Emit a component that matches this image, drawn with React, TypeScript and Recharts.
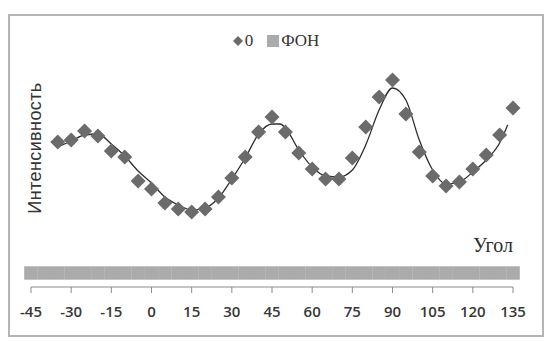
import { ComposedChart, Scatter, Line, XAxis, YAxis } from 'recharts'

// angle (deg) for measured points
const ANGLES = [
  -35, -30, -25, -20, -15, -10, -5, 0, 5, 10, 15, 20, 25, 30, 35, 40, 45, 50, 55, 60, 65, 70, 75,
  80, 85, 90, 95, 100, 105, 110, 115, 120, 125, 130, 135
]
const INTENSITY = [
  72.5, 73.5, 78, 75.5, 68, 65, 53, 49, 42, 39, 37.5, 39, 45, 54.5, 65, 77.5, 85, 77.5, 67, 59, 54,
  54, 64.5, 80, 95, 103.5, 86.5, 67.5, 55.5, 50.5, 52.5, 59, 66, 76, 89.5
]

// fitted curve
const CURVE_ANGLES = [
  -35, -30, -25, -20, -15, -10, -5, 0, 5, 10, 15, 20, 25, 30, 35, 40, 45, 48, 50, 55, 60, 65, 70,
  75, 80, 85, 90, 95, 100, 105, 110, 115, 120, 125, 130, 133
]
const CURVE = [
  70, 73, 76, 76.5, 71.5, 65.5, 58, 52, 45, 41, 38.5, 39.5, 44.5, 54, 64.5, 76.5, 81.5, 81.5, 79.5,
  68.5, 60, 55.5, 55, 58.5, 71, 88.5, 99.5, 93.5, 73.5, 58.5, 51.5, 52.5, 57.5, 63.5, 72, 81
]

// background ("ФОН")
const FON_ANGLES = [
  -45, -40, -35, -30, -25, -20, -15, -10, -5, 0, 5, 10, 15, 20, 25, 30, 35, 40, 45, 50, 55, 60, 65,
  70, 75, 80, 85, 90, 95, 100, 105, 110, 115, 120, 125, 130, 135
]
const FON_LEVEL = 7

const X_TICKS = [-45, -30, -15, 0, 15, 30, 45, 60, 75, 90, 105, 120, 135]

const DIAMOND = '#6b6b6b'
const FON_COLOR = '#ababab'

const points = ANGLES.map((a, i) => ({ x: a, v: INTENSITY[i] }))
const curve = CURVE_ANGLES.map((a, i) => ({ x: a, v: CURVE[i] }))
const fon = FON_ANGLES.map((a) => ({ x: a, v: FON_LEVEL }))

const Diamond = (props: any) => {
  const { cx, cy } = props
  const r = 7.5
  return (
    <polygon
      points={`${cx},${cy - r} ${cx + r},${cy} ${cx},${cy + r} ${cx - r},${cy}`}
      fill={DIAMOND}
    />
  )
}

const FonSquare = (props: any) => {
  const { cx, cy } = props
  return <rect x={cx - 6.8} y={cy - 6.7} width={13.6} height={13.4} fill={FON_COLOR} />
}

const ChartLegend = () => (
  <div
    style={{
      position: 'absolute',
      left: 0,
      top: 15,
      width: 532,
      display: 'flex',
      justifyContent: 'center',
      alignItems: 'center',
      fontFamily: '"Liberation Serif", serif',
      fontSize: 17,
      color: '#333'
    }}
  >
    <svg width={10} height={10} style={{ marginRight: 2 }}>
      <polygon points="5,0 10,5 5,10 0,5" fill={DIAMOND} />
    </svg>
    <span style={{ marginRight: 14 }}>0</span>
    <svg width={12} height={12} style={{ marginRight: 2 }}>
      <rect x={0} y={0} width={12} height={12} fill={FON_COLOR} />
    </svg>
    <span>ФОН</span>
  </div>
)

export default function App() {
  return (
    <div
      style={{
        position: 'relative',
        width: 536,
        height: 323,
        marginTop: 6,
        border: '2px solid #b4b4b4',
        boxSizing: 'border-box',
        background: '#fff'
      }}
    >
      <ComposedChart
        width={532}
        height={319}
        margin={{ top: 31, right: 29, bottom: 18, left: 21 }}
      >
        <XAxis
          type="number"
          dataKey="x"
          domain={[-45, 135]}
          ticks={X_TICKS}
          interval={0}
          height={30}
          tickSize={6}
          tickMargin={13}
          axisLine={{ stroke: '#8c8c8c' }}
          tickLine={{ stroke: '#8c8c8c' }}
          tick={{ fontSize: 15, fill: '#383838', fontWeight: 600, fontFamily: '"Open Sans", sans-serif' }}
        />
        <YAxis type="number" domain={[0, 120]} hide />
        <Scatter name="ФОН" data={fon} dataKey="v" shape={FonSquare} isAnimationActive={false} />
        <Scatter name="0" data={points} dataKey="v" shape={Diamond} isAnimationActive={false} />
        <Line
          data={curve}
          dataKey="v"
          type="monotone"
          stroke="#2e2e2e"
          strokeWidth={1.3}
          dot={false}
          legendType="none"
          isAnimationActive={false}
        />
      </ComposedChart>
      <ChartLegend />
      <div
        style={{
          position: 'absolute',
          left: 25,
          top: 131.5,
          transform: 'translate(-50%, -50%) rotate(-90deg)',
          whiteSpace: 'nowrap',
          fontFamily: '"Liberation Sans", Arial, sans-serif',
          fontSize: 18,
          color: '#333',
          letterSpacing: 0.4
        }}
      >
        Интенсивность
      </div>
      <div
        style={{
          position: 'absolute',
          left: 483,
          top: 229,
          transform: 'translate(-50%, -50%)',
          whiteSpace: 'nowrap',
          fontFamily: '"Liberation Serif", serif',
          fontSize: 20,
          color: '#2e2e2e'
        }}
      >
        Угол
      </div>
    </div>
  )
}
